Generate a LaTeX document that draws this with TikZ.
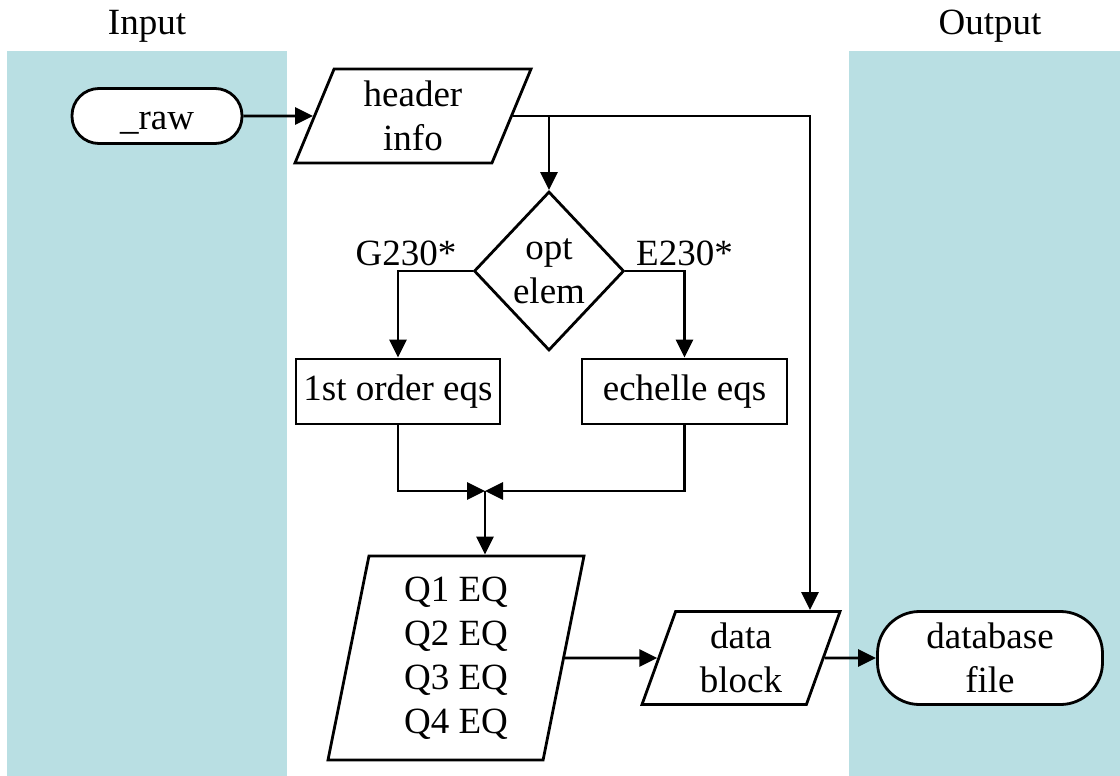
\documentclass[tikz,border=0pt]{standalone}
\usepackage{fontspec}
\setmainfont{Liberation Serif}
\usetikzlibrary{shapes.geometric,arrows.meta}
\definecolor{bandblue}{HTML}{B9DFE3}
\tikzset{
  every node/.style = {font=\fontsize{37}{44}\selectfont},
  band/.style     = {fill=bandblue, draw=none},
  title/.style    = {anchor=base},
  block/.style    = {draw, line width=2.8pt, fill=white,
                     align=center, inner sep=4pt},
  terminal/.style = {block, rectangle},
  process/.style  = {block, rectangle, minimum height=65pt},
  io/.style       = {block, trapezium, trapezium stretches body},
  decision/.style = {block, diamond, aspect=0.94, inner sep=0pt,
                     minimum width=150pt, minimum height=159pt},
  lbl/.style      = {above, fill=none, draw=none},
  conn/.style     = {line width=2.8pt, -{Triangle[length=18pt,width=17pt]}}
}

\begin{document}
\begin{tikzpicture}[x=1pt, y=-1pt]
  \useasboundingbox (0,0) rectangle (1120,776);
  \fill[band] (7,51) rectangle (287,776);
  \fill[band] (849,51) rectangle (1120,776);
  \node[title] (intitle) at (147,35) {Input};
  \node[title] (outtitle) at (990,35) {Output};

  \node[terminal, rounded corners=27pt, minimum width=170pt, minimum height=55pt,
        text height=26pt, text depth=0pt]
    (raw) at (157,116) {\_raw};
  \node[io, trapezium left angle=63.4, trapezium right angle=116.6,
        minimum width=236pt, minimum height=94pt]
    (header) at (413,116) {header\\info};
  \node[decision] (opt) at (549,271) {opt\\elem};
  \node[process, minimum width=204pt] (first) at (398,391.5) {1st order eqs};
  \node[process, minimum width=205pt] (echelle) at (684.5,391.5) {echelle eqs};
  \coordinate (merge) at (485,491);
  \node[io, trapezium left angle=76.5, trapezium right angle=103.5,
        minimum width=256pt, minimum height=204pt]
    (quad) at (456,658) {Q1 EQ\\Q2 EQ\\Q3 EQ\\Q4 EQ};
  \node[io, trapezium left angle=66.7, trapezium right angle=113.3,
        minimum width=198pt, minimum height=93pt]
    (data) at (741,658) {data\\block};
  \node[terminal, rounded corners=42pt, minimum width=225pt, minimum height=93pt]
    (dbfile) at (990,658) {database\\file};

  \draw[conn] (raw.east) -- (header.west);
  \draw[conn] (header.east) -| ([xshift=69pt]data.north);
  \draw[conn] (opt.north |- header.east) -- (opt.north);
  \draw[conn] (opt.west) -| node[lbl, xshift=8pt] {G230*} (first.north);
  \draw[conn] (opt.east) -| node[lbl] {E230*} (echelle.north);
  \draw[conn] (first.south) |- (merge);
  \draw[conn] (echelle.south) |- (merge);
  \draw[conn] (merge) -- (merge |- quad.north);
  \draw[conn] (quad.east) -- (data.west);
  \draw[conn] (data.east) -- (dbfile.west);
\end{tikzpicture}
\end{document}
